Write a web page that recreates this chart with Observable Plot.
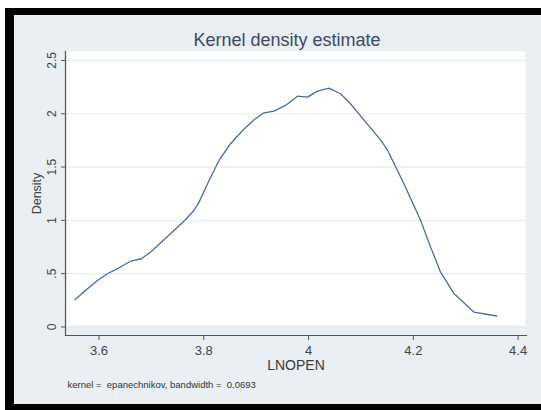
<!DOCTYPE html>
<html>
<head>
<meta charset="utf-8">
<script src="https://cdn.jsdelivr.net/npm/d3@7"></script>
<script src="https://cdn.jsdelivr.net/npm/@observablehq/plot@0.6"></script>
<style>
  html, body { margin: 0; padding: 0; background: #ffffff; }
  #wrap { position: relative; width: 541px; height: 410px; overflow: hidden; }
  #panel { position: absolute; left: 5px; top: 8px; width: 536px; height: 402px; box-sizing: border-box;
           background: #e9eff2; border-left: 9px solid #000; border-top: 7px solid #000; border-bottom: 6px solid #000; }
  #chart { position: absolute; left: 0; top: 0; }
</style>
</head>
<body>
<div id="wrap"><div id="panel"></div><div id="chart"></div></div>
<script>
// Kernel density estimate of LNOPEN
const lnopen = [3.554, 3.574, 3.597, 3.616, 3.638, 3.660, 3.681, 3.702, 3.724, 3.743, 3.765, 3.781, 3.791,
                3.810, 3.829, 3.851, 3.874, 3.896, 3.915, 3.934, 3.956, 3.979, 3.998, 4.017, 4.039, 4.061,
                4.080, 4.100, 4.138, 4.151, 4.182, 4.214, 4.233, 4.252, 4.278, 4.316, 4.359];
const density = [0.255, 0.342, 0.436, 0.499, 0.555, 0.617, 0.640, 0.718, 0.818, 0.905, 1.006, 1.093, 1.171,
                 1.374, 1.562, 1.719, 1.843, 1.944, 2.009, 2.024, 2.078, 2.165, 2.156, 2.212, 2.240, 2.188,
                 2.094, 1.975, 1.750, 1.656, 1.343, 0.999, 0.749, 0.514, 0.311, 0.139, 0.103];
const xTicks = [3.6, 3.8, 4, 4.2, 4.4];
const xTickLabels = ["3.6", "3.8", "4", "4.2", "4.4"];
const yTicks = [0, 0.5, 1, 1.5, 2, 2.5];
const yTickLabels = ["0", ".5", "1", "1.5", "2", "2.5"];
const titleText = "Kernel density estimate";
const xLabel = "LNOPEN";
const yLabel = "Density";
const noteText = "kernel\u00a0=\u00a0 epanechnikov, bandwidth\u00a0=\u00a0 0.0693";

const data = lnopen.map((x, i) => ({x, y: density[i]}));
const font = "'Liberation Sans', Arial, Helvetica, sans-serif";

const chart = Plot.plot({
  width: 541, height: 410,
  marginLeft: 65, marginRight: 15, marginTop: 51, marginBottom: 75,
  style: {background: "transparent", fontFamily: font},
  x: {domain: [3.536, 4.416]},
  y: {domain: [-0.08, 2.584]},
  marks: [
    Plot.frame({fill: "#ffffff", stroke: null, insetBottom: 10, insetLeft: 1, insetRight: 1}),
    Plot.gridY(yTicks, {stroke: "#e4ecf1", strokeOpacity: 1, strokeWidth: 1.2, insetLeft: 1, insetRight: 1}),
    Plot.frame({anchor: "left", stroke: "#555", strokeWidth: 1.2}),
    Plot.frame({anchor: "bottom", stroke: "#555", strokeWidth: 1.2}),
    Plot.axisX(xTicks, {tickSize: 5, tickPadding: 5, fontSize: 13, color: "#444", stroke: "#555",
      tickFormat: (d, i) => xTickLabels[i], label: null}),
    Plot.axisY(yTicks, {tickSize: 4, tickFormat: () => "", label: null, stroke: "#555"}),
    Plot.text(yTicks, {y: d => d, text: (d, i) => yTickLabels[i], frameAnchor: "left", rotate: -90,
      dx: -10, lineAnchor: "bottom", textAnchor: "middle", fontSize: 12, fill: "#444"}),
    Plot.text([yLabel], {frameAnchor: "left", rotate: -90, dx: -25, lineAnchor: "bottom",
      textAnchor: "middle", fontSize: 12.5, fill: "#444"}),
    Plot.text([xLabel], {frameAnchor: "bottom", dy: 30, lineAnchor: "middle", fontSize: 14, fill: "#3a3a3a"}),
    Plot.text([titleText], {frameAnchor: "top", dx: -9, dy: -11, lineAnchor: "middle", fontSize: 18, fill: "#3d4a66"}),
    Plot.text([noteText], {frameAnchor: "bottom-left", dx: 2, dy: 49, lineAnchor: "middle", textAnchor: "start",
      fontSize: 9.5, fill: "#333"}),
    Plot.line(data, {x: "x", y: "y", stroke: "#4a6d99", strokeWidth: 1.3, curve: "linear"})
  ]
});
document.getElementById("chart").appendChild(chart);
</script>
</body>
</html>
